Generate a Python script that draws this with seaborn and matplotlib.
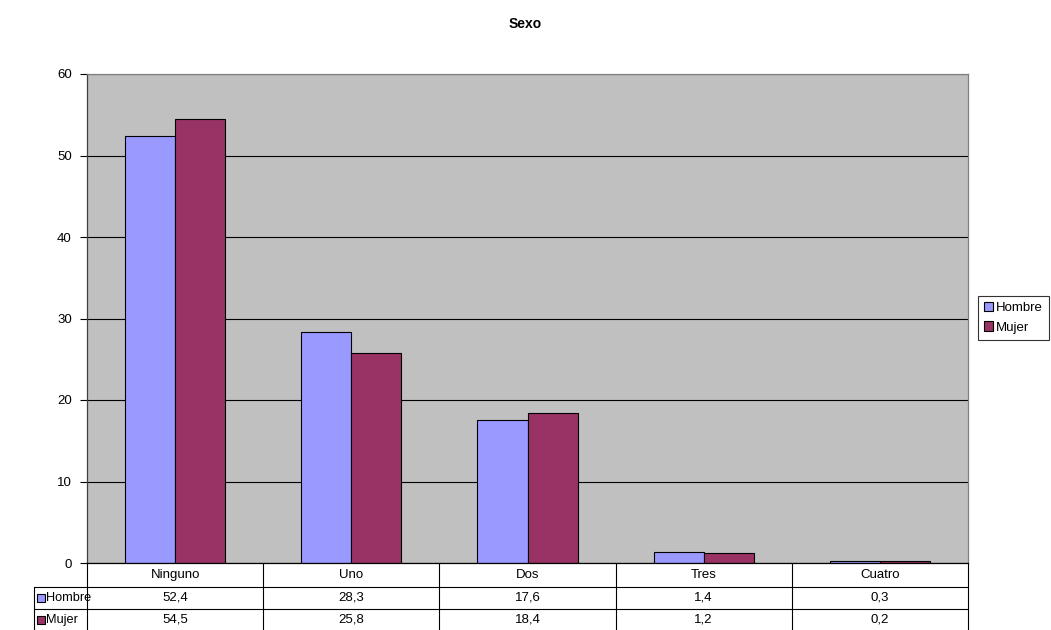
import matplotlib
matplotlib.use("Agg")
import matplotlib.pyplot as plt
import matplotlib.patches as mpatches
import pandas as pd
import seaborn as sns

# data
categories = ['Ninguno', 'Uno', 'Dos', 'Tres', 'Cuatro']
hombre = [52.4, 28.3, 17.6, 1.4, 0.3]
mujer = [54.5, 25.8, 18.4, 1.2, 0.2]
series = ['Hombre', 'Mujer']
colors = {'Hombre': '#9999FF', 'Mujer': '#993366'}

df = pd.DataFrame({
    'Categoria': categories * 2,
    'Sexo': ['Hombre'] * len(categories) + ['Mujer'] * len(categories),
    'Valor': hombre + mujer,
})

sns.set_style("white")
plt.rcParams['font.family'] = ['Liberation Sans', 'DejaVu Sans']
plt.rcParams['text.color'] = 'black'
plt.rcParams['xtick.color'] = 'black'
plt.rcParams['ytick.color'] = 'black'

W, H = 1051, 630
fig = plt.figure(figsize=(W / 100, H / 100), dpi=100)
ax_px = dict(left=87, right=968, top=74, bottom=563)
aw = ax_px['right'] - ax_px['left']
ah = ax_px['bottom'] - ax_px['top']
ax = fig.add_axes([ax_px['left'] / W, 1 - ax_px['bottom'] / H, aw / W, ah / H])

sns.barplot(data=df, x='Categoria', y='Valor', hue='Sexo', order=categories,
            hue_order=series, palette=colors, width=0.568, ax=ax,
            edgecolor='black', linewidth=0.8, saturation=1, legend=False)

fs = 9.5
ax.set_facecolor('#C0C0C0')
ax.set_ylim(0, 60)
ax.set_xlim(-0.5, len(categories) - 0.5)
ax.set_yticks(range(0, 61, 10))
ax.yaxis.grid(True, color='black', linewidth=0.8)
ax.set_axisbelow(True)
ax.set_xticks(range(len(categories)))
ax.set_xticklabels([])
ax.tick_params(axis='x', length=0)
ax.tick_params(axis='y', left=True, length=5, width=0.8, labelsize=fs, pad=6)
ax.set_xlabel('')
ax.set_ylabel('')
for side in ['top', 'right']:
    ax.spines[side].set_color('#808080')
ax.spines['left'].set_color('#404040')
ax.spines['bottom'].set_color('black')
for sp in ax.spines.values():
    sp.set_linewidth(0.9)

# data table below the plot, drawn by hand in axes coordinates
def px_y(y):
    return (ax_px['bottom'] - y) / ah

def px_x(x):
    return (x - ax_px['left']) / aw

row_edges = [563, 587, 609, 631]
label_left = px_x(34)
n = len(categories)
line_kw = dict(color='black', linewidth=0.8, transform=ax.transAxes, clip_on=False)

# horizontal lines
ax.plot([0, 1], [px_y(row_edges[1])] * 2, **line_kw)
ax.plot([label_left, 0], [px_y(row_edges[1])] * 2, **line_kw)
for y in row_edges[2:]:
    ax.plot([label_left, 1], [px_y(y)] * 2, **line_kw)
# vertical lines
for i in range(n + 1):
    ax.plot([i / n, i / n], [px_y(row_edges[0]), px_y(row_edges[-1])], **line_kw)
ax.plot([label_left] * 2, [px_y(row_edges[1]), px_y(row_edges[-1])], **line_kw)

for i, cat in enumerate(categories):
    ax.text((i + 0.5) / n, px_y((row_edges[0] + row_edges[1]) / 2), cat,
            transform=ax.transAxes, ha='center', va='center', fontsize=fs)
for r, (s, vals) in enumerate(zip(series, [hombre, mujer])):
    yc = (row_edges[r + 1] + row_edges[r + 2]) / 2
    for i, v in enumerate(vals):
        ax.text((i + 0.5) / n, px_y(yc), f"{v:.1f}".replace('.', ','),
                transform=ax.transAxes, ha='center', va='center', fontsize=fs)
    ax.add_patch(mpatches.Rectangle((px_x(37), px_y(yc + 4)), 8 / aw, 8 / ah,
                                    transform=ax.transAxes, facecolor=colors[s],
                                    edgecolor='black', linewidth=0.8, clip_on=False, zorder=5))
    ax.text(px_x(46), px_y(yc), s, transform=ax.transAxes, ha='left', va='center',
            fontsize=fs - 0.3)

handles = [mpatches.Patch(facecolor=colors[s], edgecolor='black', linewidth=0.8, label=s)
           for s in series]
leg = fig.legend(handles=handles, loc='upper left', bbox_to_anchor=(978 / W, 1 - 296 / H),
                 frameon=True, fancybox=False, fontsize=fs, handlelength=0.7, handleheight=0.7,
                 handletextpad=0.2, borderpad=0.45, labelspacing=0.55, borderaxespad=0)
leg.get_frame().set_edgecolor('black')
leg.get_frame().set_linewidth(0.8)

fig.text(0.5, 1 - 24 / H, 'Sexo', ha='center', va='center', fontsize=10, fontweight='bold')

fig.savefig('out.png', dpi=100, facecolor='white')
